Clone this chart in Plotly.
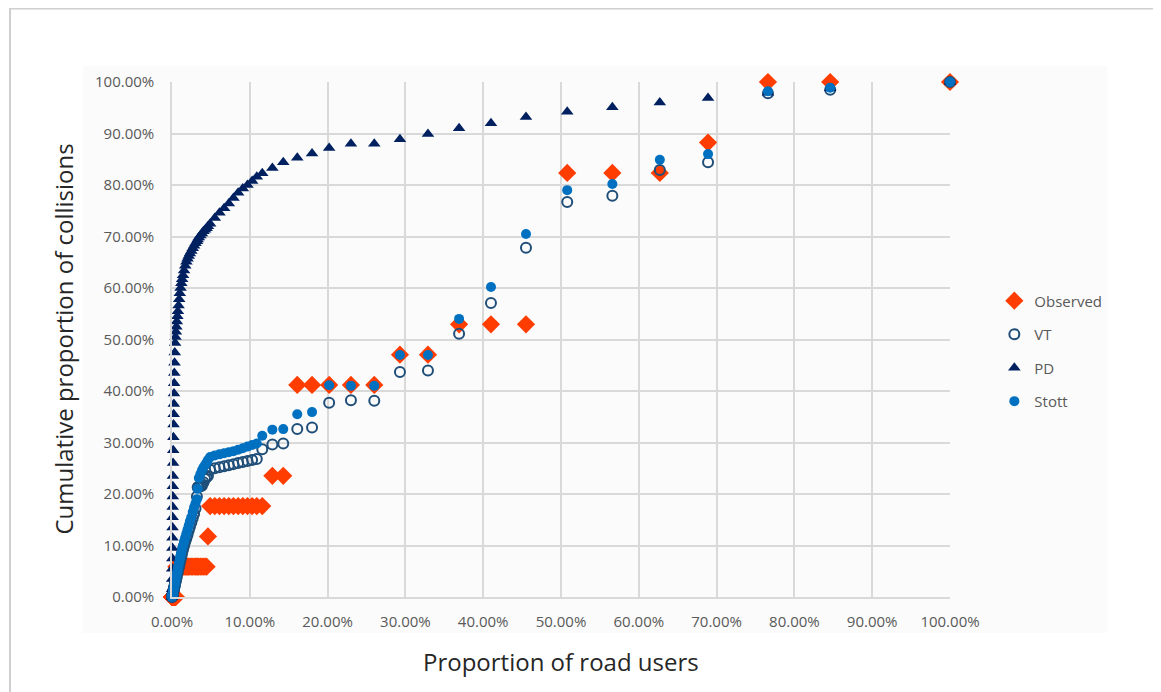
import plotly.graph_objects as go

# proportion of road users (%), shared by all series
road_users = [
    0.00, 0.01, 0.02, 0.03, 0.04, 0.05, 0.06, 0.07, 0.08, 0.09, 0.10, 0.11, 0.12,
    0.14, 0.16, 0.18, 0.20, 0.22, 0.24, 0.26, 0.28, 0.30, 0.33, 0.36, 0.40,
    0.45, 0.50, 0.56, 0.62, 0.69, 0.76, 0.84, 0.92, 1.00, 1.10, 1.20, 1.30, 1.42,
    1.55, 1.70, 1.85, 2.00, 2.15, 2.30, 2.48, 2.66, 2.84, 3.02, 3.20, 3.30, 3.45,
    3.65, 3.85, 4.05, 4.25, 4.45, 4.62,
    4.9, 5.5, 6.1, 6.7, 7.3, 7.9, 8.5, 9.1, 9.7, 10.3, 10.9, 11.6,
    12.9, 14.3, 16.1, 18.0, 20.2, 23.0, 26.0, 29.3, 32.9, 36.9, 41.0, 45.5,
    50.8, 56.6, 62.7, 68.9, 76.6, 84.6, 100.0,
]

observed = [
    0, 0, 0, 0, 0, 0, 0, 0, 0, 0, 0, 0, 0,
    0, 0, 0, 0, 0, 0, 0, 0, 0, 0, 0, 0,
    0, 0, 5.88, 5.88, 5.88, 5.88, 5.88, 5.88, 5.88, 5.88, 5.88, 5.88, 5.88,
    5.88, 5.88, 5.88, 5.88, 5.88, 5.88, 5.88, 5.88, 5.88, 5.88, 5.88, 5.88, 5.88,
    5.88, 5.88, 5.88, 5.88, 5.88, 11.76,
    17.65, 17.65, 17.65, 17.65, 17.65, 17.65, 17.65, 17.65, 17.65, 17.65, 17.65, 17.65,
    23.53, 23.53, 41.18, 41.18, 41.18, 41.18, 41.18, 47.06, 47.06, 52.94, 52.94, 52.94,
    82.35, 82.35, 82.35, 88.24, 100.0, 100.0, 100.0,
]

vt = [
    0, 0.06, 0.13, 0.19, 0.26, 0.32, 0.39, 0.45, 0.52, 0.58, 0.65, 0.71, 0.78,
    0.9, 1.0, 1.2, 1.3, 1.4, 1.6, 1.7, 1.8, 2.0, 2.1, 2.3, 2.6,
    2.9, 3.2, 3.6, 4.0, 4.5, 5.0, 5.5, 6.0, 6.5, 7.2, 7.8, 8.5, 9.2,
    9.9, 10.7, 11.4, 12.1, 12.9, 13.6, 14.4, 15.3, 16.1, 17.2, 19.5, 21.3, 21.4,
    21.5, 21.6, 22.3, 22.9, 23.3, 23.5,
    24.7, 25.0, 25.2, 25.4, 25.6, 25.8, 26.0, 26.2, 26.4, 26.6, 26.8, 28.7,
    29.6, 29.8, 32.6, 32.9, 37.7, 38.2, 38.1, 43.7, 44.0, 51.1, 57.1, 67.8,
    76.7, 77.9, 82.9, 84.4, 97.8, 98.5, 100.0,
]

pd_model = [
    0, 1.5, 3.5, 5.5, 7.5, 9.5, 11.5, 13.5, 15.5, 17.5, 19.5, 21.5, 23.5,
    26.0, 28.5, 31.0, 33.5, 35.5, 37.5, 39.5, 41.5, 43.5, 45.5, 47.5, 49.3,
    50.5, 51.5, 52.5, 53.5, 54.5, 55.5, 56.6, 57.8, 59.0, 60.0, 60.9, 61.7, 62.5,
    63.4, 64.3, 65.1, 65.7, 66.2, 66.7, 67.2, 67.7, 68.2, 68.7, 69.1, 69.4, 69.8,
    70.2, 70.6, 71.0, 71.3, 71.6, 72.0,
    72.5, 73.6, 74.6, 75.5, 76.4, 77.5, 78.5, 79.3, 80.0, 80.8, 81.6, 82.3,
    83.3, 84.4, 85.3, 86.1, 87.2, 88.0, 88.0, 88.9, 89.9, 91.0, 92.0, 93.2,
    94.2, 95.1, 96.0, 96.9, 97.9, 98.8, 100.0,
]

stott = [
    0, 0.07, 0.15, 0.22, 0.29, 0.37, 0.44, 0.51, 0.58, 0.66, 0.73, 0.80, 0.88,
    1.0, 1.2, 1.3, 1.5, 1.6, 1.8, 1.9, 2.0, 2.2, 2.4, 2.6, 2.9,
    3.3, 3.7, 4.1, 4.5, 5.0, 5.6, 6.1, 6.7, 7.3, 8.0, 8.7, 9.4, 10.0,
    10.7, 11.5, 12.3, 13.1, 13.9, 14.7, 15.5, 16.5, 17.4, 18.2, 19.0, 21.0, 23.1,
    23.9, 24.6, 25.2, 25.6, 26.1, 26.6,
    27.2, 27.5, 27.7, 27.9, 28.1, 28.3, 28.6, 28.9, 29.2, 29.5, 29.8, 31.3,
    32.5, 32.6, 35.5, 35.9, 41.1, 41.0, 41.0, 47.0, 47.0, 54.0, 60.2, 70.5,
    79.0, 80.2, 84.9, 86.0, 98.2, 98.9, 100.0,
]

tick_vals = [0, 10, 20, 30, 40, 50, 60, 70, 80, 90, 100]
tick_text = ['0.00%', '10.00%', '20.00%', '30.00%', '40.00%', '50.00%',
             '60.00%', '70.00%', '80.00%', '90.00%', '100.00%']

GRID = '#d9d9d9'
TICK_FONT = dict(family='Open Sans', size=15, color='#595959')
TITLE_FONT = dict(family='Open Sans', size=24, color='#262626')

fig = go.Figure()
fig.add_trace(go.Scatter(x=road_users, y=observed, mode='markers', name='Observed',
                         legendgroup='a', cliponaxis=False,
                         marker=dict(symbol='diamond', size=14, color='#ff3d00')))
fig.add_trace(go.Scatter(x=road_users, y=vt, mode='markers', name='VT',
                         legendgroup='b', cliponaxis=False,
                         marker=dict(symbol='circle-open', size=10, color='#1f4e79',
                                     line=dict(width=2, color='#1f4e79'))))
fig.add_trace(go.Scatter(x=road_users, y=pd_model, mode='markers', name='PD',
                         legendgroup='c', cliponaxis=False,
                         marker=dict(symbol='triangle-up', size=11, color='#002060')))
fig.add_trace(go.Scatter(x=road_users, y=stott, mode='markers', name='Stott',
                         legendgroup='d', cliponaxis=False,
                         marker=dict(symbol='circle', size=10, color='#0070c0')))

# outer border and inner panel (paper coords relative to plot area)
fig.add_shape(type='rect', xref='paper', yref='paper', x0=-0.2082, x1=1.266,
              y0=-0.4, y1=1.1427, line=dict(color='#cfcfcf', width=2),
              fillcolor='white', layer='below')
fig.add_shape(type='rect', xref='paper', yref='paper', x0=-0.1144, x1=1.2018,
              y0=-0.0699, y1=1.031, line=dict(width=0),
              fillcolor='#fbfbfb', layer='below')

fig.add_annotation(text='Proportion of road users', xref='paper', yref='paper',
                   x=0.5, y=-0.126, xanchor='center', yanchor='middle',
                   showarrow=False, font=TITLE_FONT)
fig.add_annotation(text='Cumulative proportion of collisions', xref='paper', yref='paper',
                   x=-0.14, y=0.5, xanchor='center', yanchor='middle', textangle=-90,
                   showarrow=False, font=TITLE_FONT)

# page body adds an 8px offset; figure shrunk so it fits the window
fig.update_layout(
    width=1153, height=684,
    margin=dict(l=164, r=211, t=74, b=95),
    paper_bgcolor='white',
    plot_bgcolor='rgba(0,0,0,0)',
    legend=dict(x=1.057, y=0.607, xanchor='left', yanchor='top',
                font=dict(family='Open Sans', size=15, color='#595959'),
                tracegroupgap=11, bgcolor='rgba(0,0,0,0)'),
    xaxis=dict(
        range=[0, 100], tickvals=tick_vals, ticktext=tick_text, automargin=False,
        showgrid=True, gridcolor=GRID, gridwidth=1.5,
        showline=True, linecolor=GRID, linewidth=1.5, zeroline=False,
        ticks='', ticklabelstandoff=10, tickfont=TICK_FONT,
    ),
    yaxis=dict(
        range=[0, 100], tickvals=tick_vals, ticktext=tick_text, automargin=False,
        showgrid=True, gridcolor=GRID, gridwidth=1.5,
        showline=True, linecolor=GRID, linewidth=1.5, zeroline=False,
        ticks='', ticklabelstandoff=13, tickfont=TICK_FONT,
    ),
)

fig.write_html("out.html")
